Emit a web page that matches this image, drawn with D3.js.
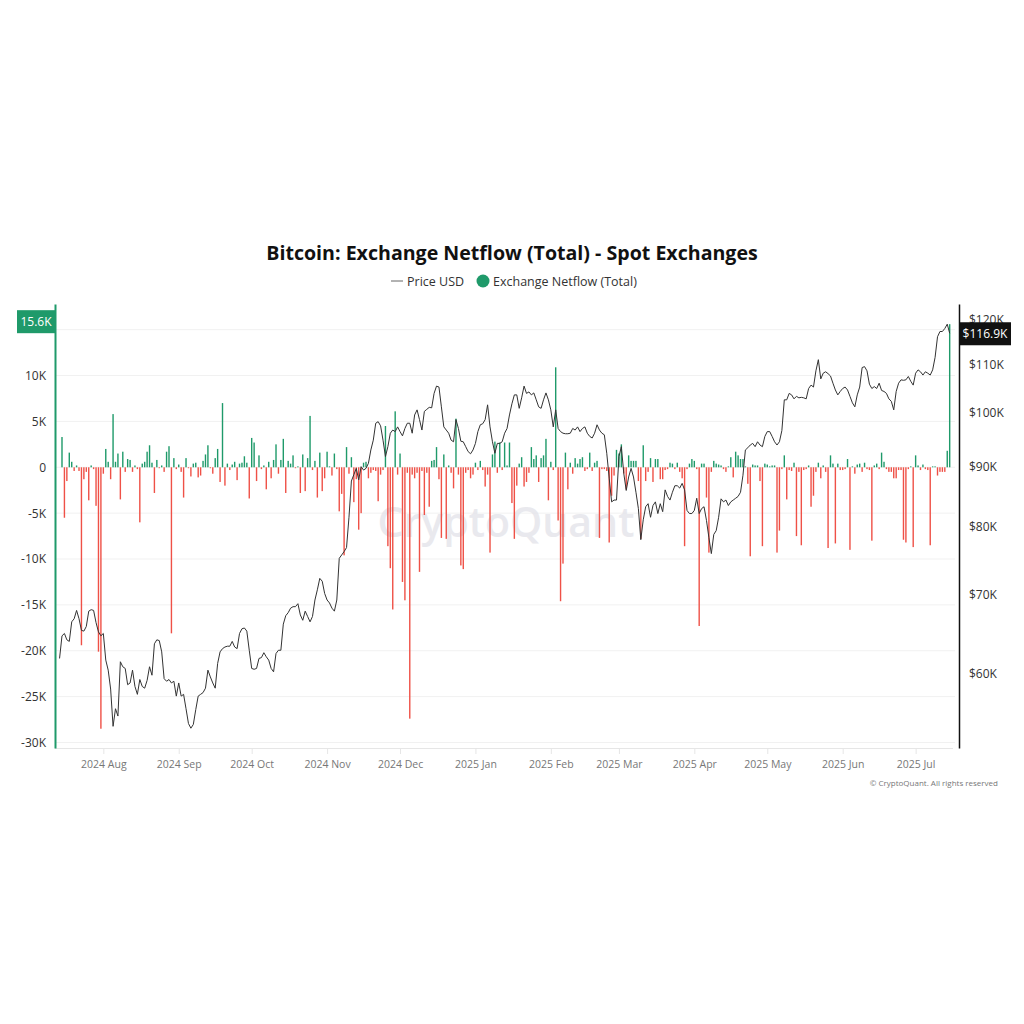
<!DOCTYPE html>
<html>
<head>
<meta charset="utf-8">
<script src="https://cdn.jsdelivr.net/npm/d3@7"></script>
<style>
  body { margin: 0; background: #fff; }
  svg { display: block; font-family: "Open Sans", "Noto Sans", sans-serif; }
</style>
</head>
<body>
<svg width="1024" height="1024"></svg>
<script>
// daily series, first day 2024-07-14, last day 2025-07-15
const startDate = '2024-07-14'

// BTC close, thousands of USD
const priceUSD = [
  61.8, 64.6, 64.9, 64.1, 63.9, 66.4, 66.8, 67.9, 66.8, 65.3, 65.2, 65.8, 67.8, 68.0, 67.9, 66.3, 65.1, 64.6,
  64.9, 61.6, 60.4, 58.2, 54.1, 56.0, 55.2, 61.4, 60.8, 60.6, 58.7, 58.9, 60.4, 58.5, 57.6, 59.3, 58.5, 58.3,
  59.2, 60.8, 59.8, 63.6, 64.1, 64.0, 62.6, 59.4, 59.1, 59.3, 58.9, 59.1, 57.4,
  58.9, 57.4, 57.6, 56.0, 54.4, 53.9, 54.3, 55.9, 57.4, 57.6, 57.8, 58.3, 60.4, 59.6, 58.9, 58.3, 61.2, 62.6,
  63.0, 63.2, 63.3, 63.3, 63.9, 63.2, 63.0, 64.9, 65.5, 65.6, 65.2, 62.8,
  60.6, 60.5, 60.6, 61.8, 61.9, 62.5, 62.0, 61.6, 60.6, 60.2, 62.4, 62.8, 62.8, 66.1, 67.2, 67.6, 68.2, 68.4,
  68.4, 68.8, 67.3, 66.6, 67.8, 67.1, 66.4, 67.1, 69.3, 70.7, 72.3, 71.9, 70.2,
  69.3, 68.9, 68.2, 67.8, 69.3, 75.2, 75.7, 76.2, 76.8, 81.5, 87.5, 88.6, 89.7, 87.7, 90.0, 89.4, 89.7, 90.6,
  93.0, 94.8, 98.0, 98.3, 97.5, 94.8, 91.8, 93.6, 96.1, 96.7, 96.4, 97.3,
  96.4, 95.6, 97.0, 98.0, 98.0, 96.1, 99.6, 100.6, 98.7, 96.7, 100.3, 100.7, 101.1, 101.0, 103.9, 105.4, 105.2,
  101.2, 97.3, 96.7, 96.1, 94.8, 94.5, 98.7, 97.0, 94.6, 94.5, 93.6, 92.7, 92.3, 93.0,
  94.2, 96.4, 97.7, 97.9, 98.7, 101.6, 97.3, 94.5, 92.4, 94.2, 94.2, 94.5, 96.1, 97.0, 99.6, 101.8, 103.6,
  103.6, 100.9, 103.0, 105.4, 103.9, 104.2, 103.6, 104.0, 102.6, 101.2, 100.9, 102.6, 104.0, 102.6,
  100.6, 97.3, 100.6, 97.0, 96.4, 96.1, 96.0, 96.0, 96.1, 97.0, 96.7, 97.3, 96.4, 97.0, 97.3, 96.1, 95.5,
  95.2, 96.1, 97.7, 96.7, 96.1, 95.8, 92.4, 88.0, 84.0, 84.3, 84.3,
  91.8, 93.6, 88.8, 85.9, 88.2, 89.7, 88.2, 85.6, 82.9, 78.0, 81.1, 83.2, 83.7, 81.5, 83.4, 84.0, 82.1, 83.7,
  82.4, 86.0, 84.9, 84.3, 85.6, 86.7, 86.7, 86.3, 87.1, 86.0, 82.6, 82.1, 82.1,
  82.6, 84.6, 82.1, 82.9, 83.2, 81.0, 78.3, 75.9, 78.8, 79.4, 81.5, 84.5, 84.0, 84.3, 83.4, 84.0, 84.3, 84.6,
  84.9, 85.6, 88.5, 93.0, 93.4, 93.9, 94.2, 93.6, 94.5, 93.9, 93.6,
  95.5, 96.4, 96.4, 95.5, 94.5, 93.9, 94.5, 96.6, 102.6, 102.6, 103.9, 103.6, 102.8, 103.3, 103.0, 103.1,
  103.0, 102.8, 104.9, 105.6, 105.2, 108.6, 111.0, 106.9, 108.1, 108.4, 108.0, 107.5, 106.0, 104.6, 103.6,
  104.3, 104.9, 105.2, 104.6, 103.3, 102.0, 101.2, 103.6, 105.2, 109.3, 109.5, 108.6, 105.8, 104.9, 105.3,
  104.9, 106.0, 104.5, 104.3, 103.9, 102.8, 102.3, 100.6, 104.3, 106.0, 106.7, 106.6, 106.7, 107.4, 106.4, 105.6,
  108.1, 108.8, 108.4, 107.7, 108.4, 108.1, 107.7, 108.8, 111.5, 116.1, 117.3, 117.3, 118.0, 119.0, 116.9
]

// exchange netflow, thousands of BTC
const netflowBTC = [
  0, 3.3, -5.5, -1.5, 1.6, 0.6, -0.4, 0.2, -0.4, -19.4, -1.3, -0.5, -3.6, 0.2, -0.2, -4.2, -20.1, -28.5,
  -0.7, 2.0, 0.6, -1.3, 5.8, 0.6, 1.5, -3.5, 1.7, -0.5, 0.9, 0.8, -0.5, 0.2, -0.2, -6.0, 0.4, 0.6,
  1.7, 2.4, 0.5, -2.8, 0.8, -0.1, 0.2, -0.5, 1.7, 2.3, -18.1, 1.0, -0.2,
  0.3, -0.5, -3.3, 1.0, -0.1, -1.0, 0.4, 0.5, -1.1, -0.9, 0.7, 1.4, 2.4, -0.1, -0.7, 1.0, 2.0, -1.6,
  7.0, -2.0, 0.4, -0.3, 0.3, 0.6, -1.4, 0.4, 0.5, 1.2, 0.5, -3.4,
  3.2, 2.7, -1.5, 1.3, -0.2, 0.2, -2.4, 0.6, -1.2, 0.8, 2.5, -0.7, 0.8, 3.1, -2.8, 0.7, 0.4, 1.3,
  -0.1, 0.1, -2.8, 1.4, -2.6, 1.0, 5.6, -0.3, 0.7, -3.3, 1.6, -2.6, -1.2,
  1.7, 0.1, -0.9, 1.5, -0.2, -4.8, -2.9, -9.6, 2.2, -0.7, 1.1, -3.8, -1.3, -6.8, -5.0, 0.5, 0.6, -1.2,
  -0.6, -0.3, -0.4, -3.7, -0.8, -0.3, 4.5, -8.6, -11.0, -15.5, 6.1, -0.8,
  1.5, -12.5, -14.5, -0.6, -27.4, -0.8, -1.2, -0.6, -11.4, -0.4, -5.2, -0.6, -4.3, 0.7, 0.8, 2.2, -1.3,
  -7.7, 1.4, -7.8, 0.2, -0.6, -2.3, 5.3, -0.8, -10.7, -11.1, -0.6, -0.3, -1.2, -0.8,
  0.5, -0.3, 0.7, -0.3, -2.1, -0.8, -9.3, 1.4, 2.8, -0.6, 2.7, -0.3, 2.7, 0.2, 2.7, -3.9, -7.8,
  -2.0, 0.4, 1.1, -2.1, -1.6, -0.6, 2.2, 0.9, 1.3, -1.6, 1.0, 1.3, 3.1, -3.6,
  0.6, -0.3, 10.9, -5.8, -14.6, -10.5, 1.6, -2.4, 0.5, -0.7, 1.0, 0.4, 0.9, 1.1, -0.4, -0.2, 1.6,
  -0.4, 0.5, 0.7, -7.7, -0.2, -0.2, -0.4, -8.2, -3.1, -0.9, 1.9,
  1.5, 2.5, -0.7, -2.4, 1.3, 0.7, 0.7, 0.7, -1.5, -7.8, 2.4, -1.5, -0.5, 1.0, -1.6, 0.9, 0.9, -1.3,
  -1.3, -0.3, -0.2, 0.5, 0.4, -0.2, 0.5, -0.5, -1.2, -8.6, -0.2, 0.4, 0.9,
  0.7, -0.2, -17.3, 0.4, 0.4, -3.3, -9.3, -0.5, 0.7, 0.4, 0.3, 0.2, -0.2, -0.5, 0.1, 1.1, -1.1, 1.7,
  1.3, 0.9, 0.9, 0.1, -1.8, -9.7, 0.3, 0.2, 0.2, -1.5, -8.6,
  0.4, 0.3, 0.1, 0.2, 0.2, -9.3, -6.9, -0.2, 1.3, -3.5, -0.3, -0.4, 0.5, -7.5, -0.5, -8.5,
  -0.3, -0.2, 0.2, -4.3, -3.1, -0.5, 0.5, -1.2, 0.2, -0.5, -8.8, 1.3, 0.4, -8.3, 0.4,
  -0.3, -0.3, -0.2, 0.9, -9.0, 0.1, -0.7, 0.3, 0.4, -0.5, 0.5, -0.2, -0.3, -8.0, 0.2,
  0.4, -0.2, 1.6, 0.6, -0.2, -0.5, -0.5, -1.2, -1.2, -0.3, -0.3, -7.9, -8.2, -0.2, 0.1, -8.7,
  1.3, 0.2, -0.3, 0.3, -0.2, -0.3, -8.5, 0.1, 0.1, -0.9, -0.5, -0.5, -0.5, 1.8, 15.6
]

const leftTicks = [10, 5, 0, -5, -10, -15, -20, -25, -30]
const gridTicks = [15, 10, 5, 0, -5, -10, -15, -20, -25, -30]
const rightTicks = [60, 70, 80, 90, 100, 110, 120]

const green = '#1f9a6a'
const red = '#ef5147'

const svg = d3.select('svg')

const t0 = d3.utcParse('%Y-%m-%d')(startDate)
const data = priceUSD.map((p, i) => ({
  date: d3.utcDay.offset(t0, i),
  price: p,
  flow: netflowBTC[i]
}))

const plotL = 55, plotR = 959, plotT = 304, plotB = 748

const x = d3.scaleUtc()
  .domain([new Date(Date.UTC(2024, 6, 12, 3)), new Date(Date.UTC(2025, 6, 18, 20))])
  .range([plotL, plotR])

const yL = d3.scaleLinear().domain([-30.6, 17.8]).range([plotB, plotT])
const yR = d3.scaleLog().domain([51.85, 123.8]).range([plotB, plotT])

// title + legend
svg.append('text')
  .attr('x', 512).attr('y', 260)
  .attr('text-anchor', 'middle')
  .attr('font-size', 19.6)
  .attr('font-weight', 700)
  .attr('fill', '#111')
  .text('Bitcoin: Exchange Netflow (Total) - Spot Exchanges')

const legend = svg.append('g').attr('font-size', 12.5).attr('fill', '#333')
legend.append('line')
  .attr('x1', 391).attr('x2', 403).attr('y1', 281).attr('y2', 281)
  .attr('stroke', '#666').attr('stroke-width', 1)
legend.append('text').attr('x', 407).attr('y', 285.5).text('Price USD')
legend.append('circle').attr('cx', 483).attr('cy', 281).attr('r', 6.5).attr('fill', green)
legend.append('text').attr('x', 493).attr('y', 285.5).text('Exchange Netflow (Total)')

// grid
svg.append('g')
  .selectAll('line')
  .data(gridTicks)
  .enter()
  .append('line')
  .attr('x1', plotL).attr('x2', plotR - 4)
  .attr('y1', d => yL(d)).attr('y2', d => yL(d))
  .attr('stroke', '#f1f1f1')

// watermark
svg.append('text')
  .attr('x', 506).attr('y', 537)
  .attr('text-anchor', 'middle')
  .attr('font-size', 41)
  .attr('font-weight', 600)
  .attr('fill', '#e4e4ea')
  .attr('opacity', 0.8)
  .text('CryptoQuant')

// netflow bars
svg.append('g')
  .selectAll('rect')
  .data(data)
  .enter()
  .append('rect')
  .attr('x', d => x(d.date) - 0.7)
  .attr('width', 1.4)
  .attr('y', d => Math.min(yL(d.flow), yL(0)))
  .attr('height', d => Math.abs(yL(d.flow) - yL(0)))
  .attr('fill', d => d.flow >= 0 ? green : red)

// price line
svg.append('path')
  .datum(data)
  .attr('fill', 'none')
  .attr('stroke', '#333')
  .attr('stroke-width', 1)
  .attr('d', d3.line().x(d => x(d.date)).y(d => yR(d.price)))

// x axis
const xAxis = svg.append('g')
  .attr('transform', `translate(0,${plotB})`)
  .call(d3.axisBottom(x)
    .ticks(d3.utcMonth.every(1))
    .tickFormat(d3.utcFormat('%Y %b'))
    .tickSize(6)
    .tickSizeOuter(0)
    .tickPadding(7))
xAxis.select('.domain').attr('stroke', '#e6e6e6').attr('d', `M${plotL},0.5H${plotR - 6}`)
xAxis.selectAll('.tick line').attr('stroke', '#e6e6e6')
xAxis.selectAll('.tick text').attr('fill', '#777').attr('font-size', 10.5)
  .attr('font-family', '"Open Sans", sans-serif')

// left axis
const yAxisL = svg.append('g')
  .attr('transform', `translate(${plotL},0)`)
  .call(d3.axisLeft(yL)
    .tickValues(leftTicks)
    .tickFormat(d => d === 0 ? '0' : d + 'K')
    .tickSize(0)
    .tickPadding(9))
yAxisL.select('.domain').attr('stroke', green).attr('stroke-width', 2)
yAxisL.selectAll('.tick text').attr('fill', '#333').attr('font-size', 12)
  .attr('font-family', '"Open Sans", sans-serif')

// right axis
const yAxisR = svg.append('g')
  .attr('transform', `translate(${plotR},0)`)
  .call(d3.axisRight(yR)
    .tickValues(rightTicks)
    .tickFormat(d => '$' + d + 'K')
    .tickSize(0)
    .tickPadding(10))
yAxisR.select('.domain').attr('stroke', '#111').attr('stroke-width', 1.5)
yAxisR.selectAll('.tick text').attr('fill', '#333').attr('font-size', 12)
  .attr('font-family', '"Open Sans", sans-serif')

// last value flags
const last = data[data.length - 1]
const flagL = svg.append('g').attr('transform', `translate(0,${yL(last.flow)})`)
flagL.append('rect').attr('x', 17).attr('y', -14).attr('width', 38).attr('height', 23).attr('fill', green)
flagL.append('text').attr('x', 36).attr('y', 2).attr('text-anchor', 'middle')
  .attr('fill', '#fff').attr('font-size', 12).text(d3.format('.1f')(last.flow) + 'K')

const flagR = svg.append('g').attr('transform', `translate(0,${yR(last.price)})`)
flagR.append('rect').attr('x', 959).attr('y', -11).attr('width', 52).attr('height', 23).attr('fill', '#111')
flagR.append('text').attr('x', 985).attr('y', 5).attr('text-anchor', 'middle')
  .attr('fill', '#fff').attr('font-size', 12).text('$' + d3.format('.1f')(last.price) + 'K')

svg.append('text')
  .attr('x', 998).attr('y', 786)
  .attr('text-anchor', 'end')
  .attr('font-size', 8)
  .attr('fill', '#777')
  .text('© CryptoQuant. All rights reserved')
</script>
</body>
</html>
